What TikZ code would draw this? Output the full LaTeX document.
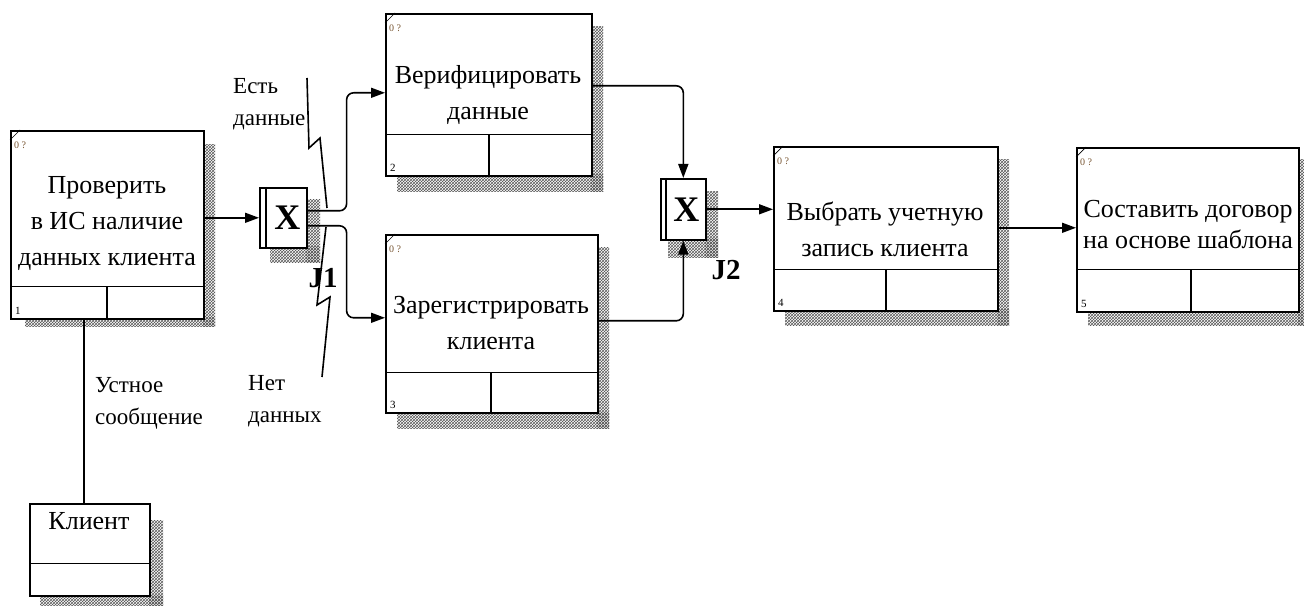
\documentclass[tikz,border=0pt]{standalone}
\usepackage{fontspec}
\setmainfont{Liberation Serif}
\usetikzlibrary{arrows.meta,patterns,calc}
\definecolor{tagc}{RGB}{120,85,50}
\begin{document}
\begin{tikzpicture}[x=1pt,y=-1pt,
  box/.style={draw, line width=1.6pt, fill=white, inner sep=0pt, anchor=north west},
  shad/.style={pattern=crosshatch, pattern color=gray!70!black},
  conn/.style={line width=1.6pt, rounded corners=7pt},
  arr/.style={conn, -{Triangle[length=14pt,width=10pt]}},
  thin/.style={line width=1.6pt},
  btext/.style={font=\fontsize{26}{36}\selectfont, align=center, inner sep=0pt},
  lbl/.style={font=\fontsize{23}{32}\selectfont, align=left, anchor=north west, inner sep=0pt},
  tag/.style={font=\fontsize{10}{10}\selectfont, text=tagc, anchor=north west, inner sep=0pt},
  num/.style={font=\fontsize{11}{11}\selectfont, anchor=south west, inner sep=0pt},
  jlbl/.style={font=\fontsize{29}{30}\selectfont\bfseries, inner sep=0pt},
  xlbl/.style={font=\fontsize{36}{36}\selectfont\bfseries, inner sep=0pt}]
\useasboundingbox (0,0) rectangle (1304,612);

% ---------- shadows ----------
\fill[shad] (203,145) rectangle (215,327);
\fill[shad] (25,318) rectangle (215,327);
\fill[shad] (591,27) rectangle (603,192);
\fill[shad] (397,175) rectangle (603,192);
\fill[shad] (597,248) rectangle (609,428);
\fill[shad] (397,412) rectangle (609,428);
\fill[shad] (997,160) rectangle (1009,326);
\fill[shad] (785,310) rectangle (1009,326);
\fill[shad] (1298,160) rectangle (1304,326);
\fill[shad] (1088,311) rectangle (1304,326);
\fill[shad] (149,520) rectangle (163,605);
\fill[shad] (40,595) rectangle (163,605);
\fill[shad] (306,200) rectangle (320,263);
\fill[shad] (270,247) rectangle (320,263);
\fill[shad] (705,192) rectangle (718,258);
\fill[shad] (668,239) rectangle (718,258);

% ---------- activity boxes ----------
\node[box, minimum width=193pt, minimum height=188pt] (b1) at (10,130) {};
\node[box, minimum width=206pt, minimum height=162pt] (b2) at (385,13) {};
\node[box, minimum width=212pt, minimum height=178pt] (b3) at (385,234) {};
\node[box, minimum width=224pt, minimum height=164pt] (b4) at (773,146) {};
\node[box, minimum width=222pt, minimum height=164pt] (b5) at (1076,147) {};
\node[box, minimum width=120pt, minimum height=92pt] (kl) at (29,503) {};
\node[box, minimum width=47pt, minimum height=60pt] (j1) at (259,187) {};
\node[box, minimum width=45pt, minimum height=61pt] (j2) at (660,178) {};

% dividers
\foreach \b/\h/\v in {b1/33/97, b2/42/104, b3/41/106, b4/42/113, b5/43/115}{
  \draw[thin] ($(\b.south west)+(0,-\h)$) -- ($(\b.south east)+(0,-\h)$);
  \draw[thin] ($(\b.south west)+(\v,0)$) -- ($(\b.south west)+(\v,-\h)$);
  \draw[line width=0.7pt] ($(\b.north west)+(0,10)$) -- ($(\b.north west)+(10,0)$);
  \node[tag] at ($(\b.north west)+(4,12)$) {0 ?};
}
\draw[thin] ($(kl.south west)+(0,-33)$) -- ($(kl.south east)+(0,-33)$);
\draw[thin] ($(j1.north west)+(7,0)$) -- ($(j1.south west)+(7,0)$);
\draw[thin] ($(j2.north west)+(6,0)$) -- ($(j2.south west)+(6,0)$);

% numbers
\node[num] at ($(b1.south west)+(5,-5)$) {1};
\node[num] at ($(b2.south west)+(5,-5)$) {2};
\node[num] at ($(b3.south west)+(5,-5)$) {3};
\node[num] at ($(b4.south west)+(5,-5)$) {4};
\node[num] at ($(b5.south west)+(5,-5)$) {5};

% box texts
\node[btext] (t1) at (107,224) {Проверить\\в ИС наличие\\данных клиента};
\node[btext] (t2) at (488,95) {Верифицировать\\данные};
\node[btext] (t3) at (491,323) {Зарегистрировать\\клиента};
\node[btext] (t4) at (885,229) {Выбрать учетную\\запись клиента};
\node[btext, font=\fontsize{26}{31}\selectfont] (t5) at (1188,225) {Составить договор\\на основе шаблона};
\node[btext] (t6) at (89,521) {Клиент};
\node[xlbl] (x1) at ($(j1.center)+(4,0)$) {X};
\node[xlbl] (x2) at ($(j2.center)+(3,0)$) {X};
\node[jlbl] (jl1) at (323,278) {J1};
\node[jlbl] (jl2) at (726,270) {J2};

% labels
\node[lbl] (l1) at (233,78) {Есть\\данные};
\node[lbl] (l2) at (248,375) {Нет\\данных};
\node[lbl] (l3) at (95,377) {Устное\\сообщение};

% ---------- connectors ----------
\draw[arr] (b1.east |- j1.west) -- (j1.west);
\draw[arr] ($(j1.east)+(0,-7)$) -- ++(39,0) |- ($(b2.west)+(0,-2)$);
\draw[arr] ($(j1.east)+(0,8)$) -- ++(39,0) |- ($(b3.west)+(0,-6)$);
\draw[arr] ($(b2.east)+(0,-9)$) -| (j2.north);
\draw[arr] ($(b3.east)+(0,-3)$) -| (j2.south);
\draw[arr] (j2.east) -- (j2.east -| b4.west);
\draw[arr] ($(b4.east)+(0,-1)$) -- ($(b5.west)+(0,-2)$);
\coordinate (kt) at ($(kl.north)+(-6,0)$);
\draw[conn] (kt) -- (kt |- b1.south);

% squiggles
\draw[thin] (307,78) -- (309,148) -- (320,138) -- (327,208);
\draw[thin] (326,227) -- (317,305) -- (330,297) -- (322,377);
\end{tikzpicture}
\end{document}
